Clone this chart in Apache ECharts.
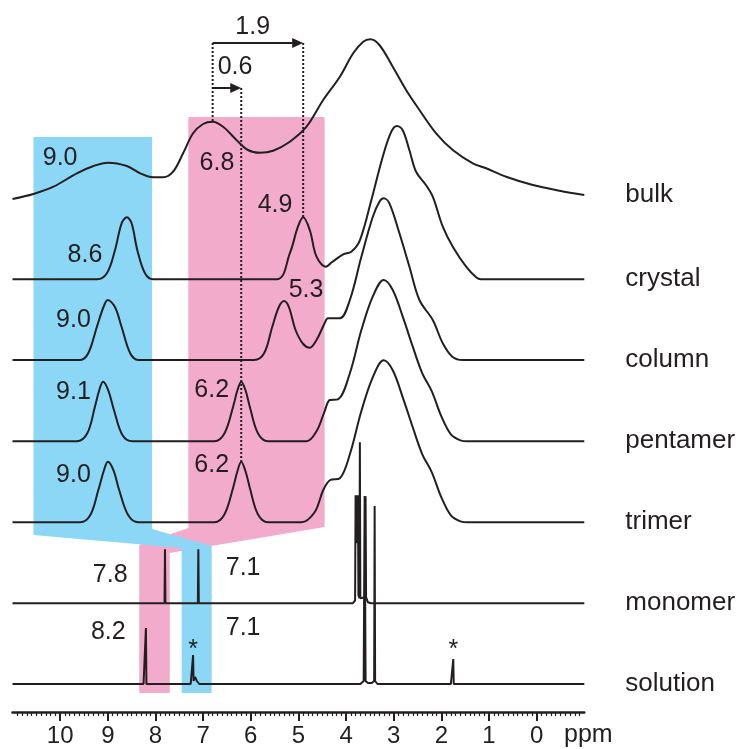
<!DOCTYPE html>
<html>
<head>
<meta charset="utf-8">
<script src="https://cdn.jsdelivr.net/npm/echarts@6/dist/echarts.min.js"></script>
<style>
  html, body { margin: 0; padding: 0; background: #ffffff; }
  #chart { width: 739px; height: 749px; }
</style>
</head>
<body>
<div id="chart"></div>
<script>
// ---- spectra: [chemical shift (ppm), intensity above own baseline] ----
const seriesNames = ['bulk', 'crystal', 'column', 'pentamer', 'trimer', 'monomer', 'solution'];
const stackOffsets = [512, 432.7, 352, 270.7, 189.7, 108.7, 28];

const bulkTrace = [[11.0,1],[10.56,6],[10.14,13.3],[9.65,26.7],[9.3,34],[9.0,37.3],[8.6,34],[8.32,26.7],[8.05,22.7],[7.84,22.7],[7.63,28.3],[7.42,46.7],[7.21,66.7],[7.0,76],[6.8,78.3],[6.58,73.3],[6.3,60],[6.06,50],[5.81,47.3],[5.53,49.3],[5.18,58.3],[4.83,73.3],[4.48,100],[4.13,123.3],[3.85,146.7],[3.64,158.3],[3.49,160.7],[3.3,155],[3.02,133.3],[2.74,110],[2.46,90],[2.11,66.7],[1.76,50],[1.34,36.7],[1.06,31.7],[0.64,23.3],[0.08,15],[-0.48,9.3],[-1.0,5]];

const crystalTrace = [[11.0,0],[9.23,0],[9.02,6],[8.85,29],[8.71,56],[8.6,62],[8.5,56],[8.38,29],[8.22,6],[8.05,0],[5.46,0],[5.18,26],[5.01,52.6],[4.9,62],[4.76,49],[4.62,22.6],[4.42,12.6],[4.3,17],[4.06,25],[3.89,27.6],[3.71,39],[3.47,79],[3.23,122.6],[3.05,147.6],[2.93,153.3],[2.81,149],[2.67,129],[2.53,107.6],[2.32,94],[2.18,82.6],[1.97,52.6],[1.76,32.6],[1.48,12.6],[1.27,2],[1.17,0],[-1.0,0]];

const columnTrace = [[11.0,0],[9.58,0],[9.41,6.7],[9.23,33],[9.09,53],[9.0,60],[8.85,53],[8.71,33],[8.53,6.7],[8.36,0],[5.93,0],[5.72,6.7],[5.55,33],[5.41,53],[5.3,59],[5.2,53],[5.06,30],[4.9,16],[4.76,12.3],[4.62,20],[4.45,36.7],[4.38,41.7],[4.13,41.7],[3.92,60],[3.68,103],[3.44,143],[3.3,158.3],[3.21,161.7],[3.09,156.7],[2.88,126.7],[2.67,93.3],[2.46,60],[2.18,40],[1.97,16.7],[1.77,3.3],[1.55,0],[-1.0,0]];

const pentamerTrace = [[11.0,0],[9.65,0],[9.43,8],[9.27,34.6],[9.18,51],[9.1,59.6],[8.99,51],[8.87,31],[8.69,6],[8.48,0],[6.76,0],[6.55,8],[6.37,34.6],[6.28,51],[6.2,59.6],[6.11,51],[6.02,34.6],[5.85,8],[5.64,0],[4.83,0],[4.62,10],[4.45,30],[4.34,41.3],[4.17,42],[3.92,68],[3.68,111],[3.44,144.6],[3.21,161.3],[3.02,151.3],[2.81,124.6],[2.6,94.6],[2.4,68],[2.2,50],[2.0,25],[1.8,7],[1.6,1],[1.45,0],[-1.0,0]];

const trimerTrace = [[11.0,0],[9.58,0],[9.37,7],[9.2,32],[9.08,52],[9.0,60.6],[8.88,52],[8.76,32],[8.57,7],[8.36,0],[6.76,0],[6.55,8],[6.37,34.6],[6.28,51],[6.2,60.6],[6.11,51],[6.02,34.6],[5.85,8],[5.64,0],[4.94,0],[4.66,10],[4.48,32],[4.34,42],[4.13,44],[3.92,68],[3.68,111],[3.44,145],[3.21,162],[3.02,152],[2.81,125],[2.6,95],[2.4,68],[2.2,50],[2.0,25],[1.8,7],[1.6,1],[1.45,0],[-1.0,0]];

const monomerTrace = [[11.0,0],[7.81,0],[7.8,54],[7.79,0],[7.11,0],[7.1,54],[7.09,0],[3.86,0],[3.81,3],[3.8,108],[3.795,60],[3.79,108],[3.785,60],[3.78,108],[3.775,60],[3.77,108],[3.765,60],[3.76,108],[3.755,60],[3.75,108],[3.74,8],[3.72,5],[3.71,161],[3.7,5],[3.66,3],[3.6,6],[3.59,107],[3.58,6],[3.54,1],[3.48,0],[3.3,0],[2.0,0],[-1.0,0]];

const solutionTrace = [[11.0,0],[8.25,0],[8.21,0],[8.2,56],[8.19,0],[8.15,0],[7.26,0],[7.22,2],[7.21,29],[7.2,3],[7.17,7],[7.15,8],[7.13,3],[7.08,0],[7.0,0],[3.7,0],[3.63,3],[3.61,188],[3.59,3],[3.54,1],[3.46,1],[3.41,3],[3.4,178],[3.39,3],[3.34,0],[3.2,0],[1.8,0],[1.76,0],[1.75,25],[1.74,0],[1.7,0],[-1.0,0]];

const traces = [bulkTrace, crystalTrace, columnTrace, pentamerTrace, trimerTrace, monomerTrace, solutionTrace];
const smoothTraces = [true, true, true, true, true, false, false];

// labelled peak positions (ppm) and where their numbers sit [ppm, height]
const peakLabels = [
  { value: 9.0, at: [10.0, 554] },
  { value: 6.8, at: [6.71, 549] },
  { value: 4.9, at: [5.49, 507] },
  { value: 8.6, at: [9.48, 457] },
  { value: 5.3, at: [4.84, 422] },
  { value: 9.0, at: [9.72, 392] },
  { value: 9.1, at: [9.72, 320] },
  { value: 6.2, at: [6.82, 322] },
  { value: 9.0, at: [9.72, 237] },
  { value: 6.2, at: [6.82, 247] },
  { value: 7.8, at: [8.95, 137] },
  { value: 7.1, at: [6.16, 144] },
  { value: 8.2, at: [8.99, 80] },
  { value: 7.1, at: [6.16, 84] }
];
// impurity markers
const starMarks = [[7.21, 62], [1.75, 62]];

// shift differences measured from the bulk 6.8 ppm peak
const shiftArrows = [
  { from: 6.8, to: 4.9, level: 669, labelAt: [5.96, 685] },
  { from: 6.8, to: 6.2, level: 624, labelAt: [6.33, 645] }
];
// dotted guides: ppm, top height, spectrum whose peak they reach
const guides = [
  { ppm: 6.8, top: 669, spectrum: 'bulk' },
  { ppm: 6.2, top: 624, spectrum: 'trimer' },
  { ppm: 4.9, top: 669, spectrum: 'crystal' }
];

// shaded correlation bands [ppm, height]
const pinkBand = [[7.31,595],[4.45,595],[4.45,185],[7.70,159],[7.70,19],[8.34,19],[8.34,167],[7.31,184]];
const blueBand = [[10.56,575],[8.07,575],[8.07,183],[6.82,166],[6.82,19],[7.45,19],[7.45,164],[10.56,177]];

const axisTickValues = [0,1,2,3,4,5,6,7,8,9,10];

// ---- drawing ----
const INK = '#231F20';
const FONT = '"Liberation Sans", Arial, Helvetica, sans-serif';
const FS_AXIS = 24;
const FS_TEXT = 25;
const FS_NAME = 26;

function peakHeightAt(trace, ppm) {
  let best = null;
  trace.forEach(p => { if (Math.abs(p[0] - ppm) < 1e-6) best = p[1]; });
  return best;
}

const series = [];

function bandSeries(points, color, z) {
  return {
    type: 'custom', silent: true, clip: false, z: z,
    data: [[points[0][0], points[0][1]]],
    renderItem: (params, api) => ({
      type: 'polygon',
      shape: { points: points.map(p => api.coord(p)) },
      style: { fill: color }
    })
  };
}
series.push(bandSeries(pinkBand, '#F3ABCC', 1));
series.push(bandSeries(blueBand, '#8DD7F6', 2));

traces.forEach((tr, i) => {
  series.push({
    type: 'line',
    name: seriesNames[i],
    data: tr.map(p => [p[0], p[1] + stackOffsets[i]]),
    smooth: smoothTraces[i] ? 0.35 : false,
    showSymbol: false, symbol: 'none',
    lineStyle: { color: INK, width: 2 },
    silent: true, z: 5, clip: false
  });
});

// dotted guides
series.push({
  type: 'custom', silent: true, clip: false, z: 6,
  data: guides.map(g => {
    const idx = seriesNames.indexOf(g.spectrum);
    return [g.ppm, g.top, peakHeightAt(traces[idx], g.ppm) + stackOffsets[idx]];
  }),
  renderItem: (params, api) => {
    const a = api.coord([api.value(0), api.value(1)]);
    const b = api.coord([api.value(0), api.value(2)]);
    return {
      type: 'line',
      shape: { x1: a[0], y1: a[1], x2: b[0], y2: b[1] },
      style: { stroke: INK, lineWidth: 2, lineDash: [2, 2] }
    };
  }
});

// arrows
series.push({
  type: 'custom', silent: true, clip: false, z: 6,
  data: shiftArrows.map(a => [a.from, a.level, a.to]),
  renderItem: (params, api) => {
    const s = api.coord([api.value(0), api.value(1)]);
    const e = api.coord([api.value(2), api.value(1)]);
    const head = 11, half = 5;
    return {
      type: 'group',
      children: [
        { type: 'line', shape: { x1: s[0], y1: s[1], x2: e[0] - head + 1, y2: e[1] },
          style: { stroke: INK, lineWidth: 2 } },
        { type: 'polygon', shape: { points: [[e[0], e[1]], [e[0] - head, e[1] - half], [e[0] - head, e[1] + half]] },
          style: { fill: INK } }
      ]
    };
  }
});

// all text labels
const textItems = [];
peakLabels.forEach(l => textItems.push([l.at[0], l.at[1], l.value.toFixed(1)]));
shiftArrows.forEach(a => textItems.push([a.labelAt[0], a.labelAt[1], (a.from - a.to).toFixed(1)]));
starMarks.forEach(s => textItems.push([s[0], s[1], '*']));

series.push({
  type: 'custom', silent: true, clip: false, z: 7,
  data: textItems,
  renderItem: (params, api) => {
    const p = api.coord([api.value(0), api.value(1)]);
    return {
      type: 'text', x: p[0], y: p[1],
      style: { text: textItems[params.dataIndex][2], fill: INK, font: FS_TEXT + 'px ' + FONT,
               align: 'center', verticalAlign: 'middle' }
    };
  }
});

// spectrum names at the right end of each trace
series.push({
  type: 'custom', silent: true, clip: false, z: 7,
  data: traces.map((tr, i) => [tr[tr.length - 1][0], tr[tr.length - 1][1] + stackOffsets[i]]),
  renderItem: (params, api) => {
    const p = api.coord([api.value(0), api.value(1)]);
    return {
      type: 'text', x: p[0] + 41, y: p[1],
      style: { text: seriesNames[params.dataIndex], fill: INK, font: FS_NAME + 'px ' + FONT,
               align: 'left', verticalAlign: 'middle' }
    };
  }
});

const chart = echarts.init(document.getElementById('chart'), null, { renderer: 'canvas' });
chart.setOption({
  animation: false,
  backgroundColor: '#ffffff',
  grid: { left: 12.5, right: 154.7, top: 12, bottom: 37, containLabel: false },
  xAxis: {
    type: 'value', min: -1, max: 11, interval: 1, inverse: true,
    axisLine: { show: true, lineStyle: { color: INK, width: 2.5 } },
    axisTick: { show: true, length: 9, customValues: axisTickValues, lineStyle: { color: INK, width: 2 } },
    minorTick: { show: true, splitNumber: 10, length: 4, lineStyle: { color: INK, width: 1.2 } },
    axisLabel: { customValues: axisTickValues, color: INK, fontSize: FS_AXIS, fontFamily: FONT, margin: 12 },
    splitLine: { show: false },
    minorSplitLine: { show: false }
  },
  yAxis: { type: 'value', min: 0, max: 700, show: false, splitLine: { show: false } },
  graphic: [{
    type: 'text', left: 564, top: 723,
    style: { text: 'ppm', fill: INK, font: FS_TEXT + 'px ' + FONT }
  }],
  series: series
});
</script>
</body>
</html>
